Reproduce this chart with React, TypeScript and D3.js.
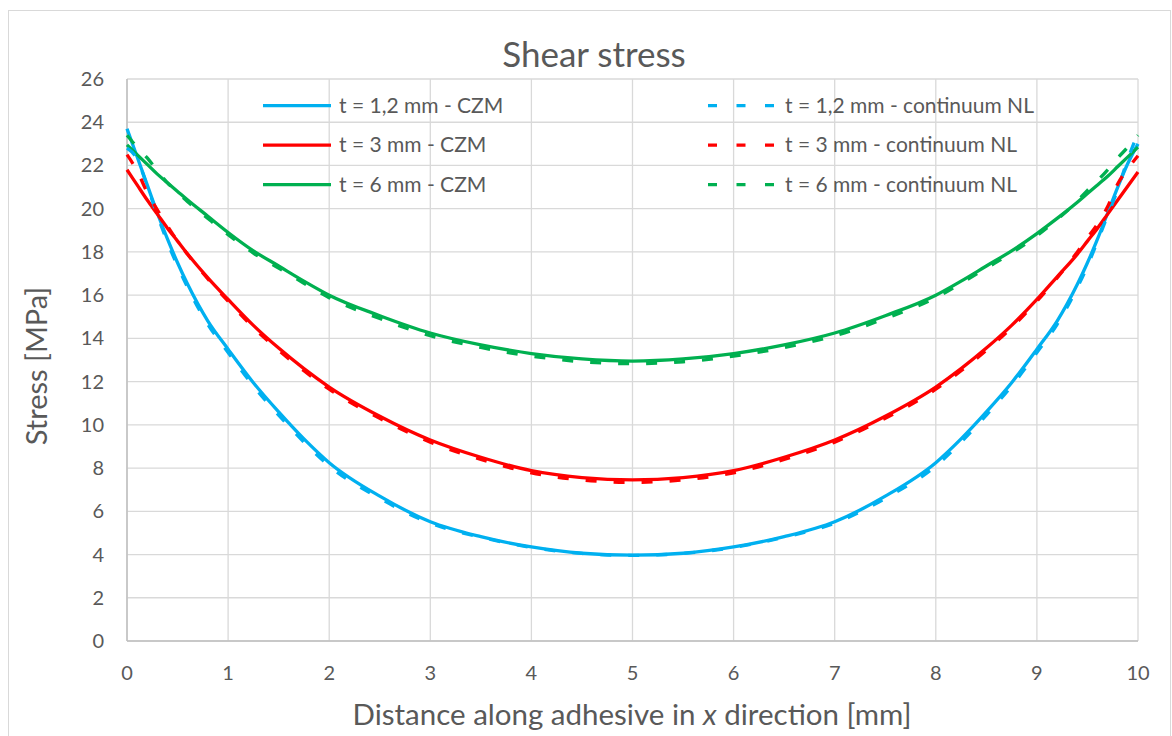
import React from "react";
import * as d3 from "d3";

const xs = [0, 0.1, 0.2, 0.3, 0.4, 0.5, 0.6, 0.8, 1, 1.25, 1.5, 1.75, 2, 2.5, 3, 3.5, 4, 4.5, 5, 5.5, 6, 6.5, 7, 7.5, 8, 8.25, 8.5, 8.75, 9, 9.2, 9.4, 9.5, 9.6, 9.7, 9.8, 9.9, 10];

const blueCZM = [23.7, 22.4, 21.1, 19.8, 18.6, 17.5, 16.5, 14.8, 13.5, 11.95, 10.6, 9.35, 8.25, 6.7, 5.52, 4.83, 4.35, 4.06, 3.97,
  4.06, 4.35, 4.83, 5.52, 6.7, 8.25, 9.35, 10.6, 11.95, 13.5, 14.8, 16.5, 17.5, 18.6, 19.8, 21.0, 22.1, 23.0];
const blueNL = [22.8, 22.3, 21.05, 19.7, 18.45, 17.35, 16.35, 14.65, 13.35, 11.8, 10.45, 9.2, 8.1, 6.6, 5.45, 4.8, 4.33, 4.05, 3.96,
  4.05, 4.33, 4.8, 5.45, 6.6, 8.1, 9.2, 10.45, 11.8, 13.35, 14.65, 16.35, 17.35, 18.5, 19.7, 20.9, 22.3, 23.5];
const redCZM = [21.8, 21.1, 20.4, 19.75, 19.1, 18.5, 17.9, 16.8, 15.8, 14.6, 13.55, 12.6, 11.75, 10.4, 9.3, 8.5, 7.88, 7.56, 7.45,
  7.56, 7.88, 8.5, 9.3, 10.4, 11.75, 12.6, 13.55, 14.6, 15.8, 16.85, 17.9, 18.5, 19.1, 19.75, 20.4, 21.05, 21.7];
const redNL = [22.5, 21.75, 20.75, 19.95, 19.2, 18.5, 17.88, 16.75, 15.72, 14.5, 13.45, 12.5, 11.65, 10.3, 9.2, 8.4, 7.78, 7.45, 7.34,
  7.45, 7.78, 8.4, 9.2, 10.3, 11.65, 12.5, 13.45, 14.5, 15.72, 16.8, 18.0, 18.65, 19.3, 20.1, 21.15, 21.85, 22.45];
const greenCZM = [22.95, 22.5, 22.05, 21.6, 21.2, 20.8, 20.4, 19.65, 18.9, 18.05, 17.35, 16.65, 16.0, 15.05, 14.25, 13.7, 13.3, 13.05, 12.95,
  13.05, 13.3, 13.7, 14.25, 15.05, 16.0, 16.65, 17.35, 18.05, 18.85, 19.55, 20.3, 20.7, 21.1, 21.5, 21.95, 22.4, 22.85];
const greenNL = [23.4, 22.85, 22.35, 21.75, 21.2, 20.75, 20.32, 19.55, 18.8, 17.95, 17.25, 16.55, 15.88, 14.92, 14.12, 13.58, 13.18, 12.92, 12.83,
  12.92, 13.18, 13.58, 14.12, 14.92, 15.88, 16.55, 17.25, 17.95, 18.75, 19.5, 20.35, 20.85, 21.3, 21.8, 22.35, 22.85, 23.4];

const xTicks = [0, 1, 2, 3, 4, 5, 6, 7, 8, 9, 10];
const yTicks = [0, 2, 4, 6, 8, 10, 12, 14, 16, 18, 20, 22, 24, 26];

const seriesNames = [
  "t = 1,2 mm - CZM", "t = 3 mm - CZM", "t = 6 mm - CZM",
  "t = 1,2 mm - continuum NL", "t = 3 mm - continuum NL", "t = 6 mm - continuum NL",
];
const seriesValues = [blueCZM, redCZM, greenCZM, blueNL, redNL, greenNL];
const seriesColors = ["#00B0F0", "#FF0000", "#00B050", "#00B0F0", "#FF0000", "#00B050"];
const seriesDashed = [false, false, false, true, true, true];

const FONT = "Lato, 'Open Sans', sans-serif";
const TXT = "#595959";

export default function App() {
  const left = 127, right = 1138, top = 79, bottom = 641;
  const x = d3.scaleLinear().domain([0, 10]).range([left, right]);
  const y = d3.scaleLinear().domain([0, 26]).range([bottom, top]);
  const line = d3.line<number>()
    .x((_, i) => x(xs[i]))
    .y((d) => y(d))
    .curve(d3.curveMonotoneX);

  const legendRows = [105.7, 145.2, 184.7];
  const legendLines = [[263, 331], [708, 777]];
  const legendText = [339, 785];

  return (
    <svg width={1172} height={736} style={{ position: "absolute", left: 0, top: 0, background: "#fff" }}>
      <rect x={8.5} y={10.5} width={1162} height={740} fill="#fff" stroke="#d9d9d9" strokeWidth={1} />
      {/* grid */}
      {yTicks.map((t) => (
        <line key={"gy" + t} x1={left} x2={right} y1={y(t)} y2={y(t)} stroke="#d9d9d9" strokeWidth={1.3} />
      ))}
      {xTicks.map((t) => (
        <line key={"gx" + t} x1={x(t)} x2={x(t)} y1={top} y2={bottom} stroke="#d9d9d9" strokeWidth={1.3} />
      ))}
      <line x1={left} x2={left} y1={top} y2={bottom} stroke="#bfbfbf" strokeWidth={1.5} />
      <line x1={left} x2={right} y1={bottom} y2={bottom} stroke="#bfbfbf" strokeWidth={1.5} />
      {/* tick labels */}
      {yTicks.map((t) => (
        <text key={"ty" + t} x={104} y={y(t) + 7} textAnchor="end" fontFamily={FONT} fontSize={20} fill={TXT}>{t}</text>
      ))}
      {xTicks.map((t) => (
        <text key={"tx" + t} x={x(t)} y={680} textAnchor="middle" fontFamily={FONT} fontSize={20} fill={TXT}>{t}</text>
      ))}
      {/* series */}
      {seriesValues.map((vals, i) => (
        <path key={"s" + i} d={line(vals) || ""} fill="none" stroke={seriesColors[i]} strokeWidth={3.3}
          strokeDasharray={seriesDashed[i] ? "11,17" : undefined} strokeLinejoin="round" />
      ))}
      {/* legend */}
      {seriesNames.map((name, i) => {
        const col = Math.floor(i / 3);
        const row = i % 3;
        const [l0, l1] = legendLines[col];
        const ly = legendRows[row];
        return (
          <g key={"lg" + i}>
            <line x1={l0} x2={l1} y1={ly} y2={ly} stroke={seriesColors[i]} strokeWidth={3.3}
              strokeDasharray={seriesDashed[i] ? "9,19.5" : undefined} />
            <text x={legendText[col]} y={ly + 7} fontFamily={FONT} fontSize={21} fill={TXT}>{name}</text>
          </g>
        );
      })}
      {/* titles */}
      <text x={594} y={67} textAnchor="middle" fontFamily={FONT} fontSize={35} fill={TXT}>Shear stress</text>
      <text x={632} y={725} textAnchor="middle" fontFamily={FONT} fontSize={29.5} fill={TXT}>
        Distance along adhesive in <tspan fontStyle="italic">x</tspan> direction [mm]
      </text>
      <text transform={`translate(47,${366}) rotate(-90)`} textAnchor="middle" fontFamily={FONT} fontSize={29} fill={TXT}>Stress [MPa]</text>
    </svg>
  );
}
